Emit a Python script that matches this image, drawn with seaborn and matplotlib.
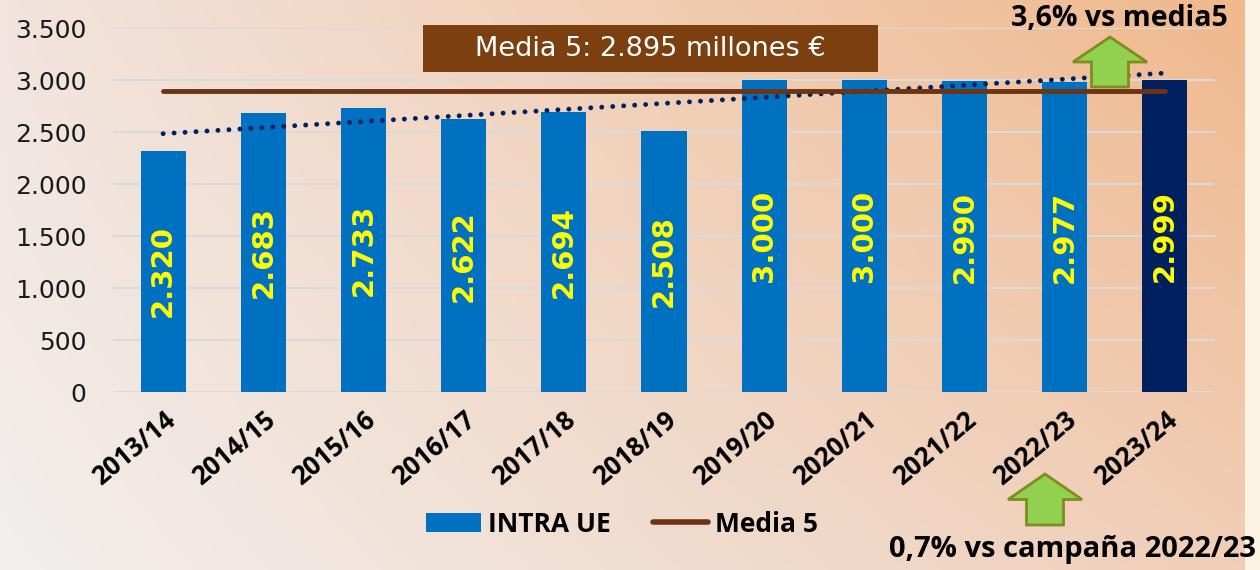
import numpy as np
import pandas as pd
import matplotlib
matplotlib.use("Agg")
import matplotlib.pyplot as plt
from matplotlib.patches import Polygon, Rectangle, Patch
from matplotlib.lines import Line2D
import seaborn as sns

# data (millones de euros)
seasons = ["2013/14", "2014/15", "2015/16", "2016/17", "2017/18", "2018/19",
           "2019/20", "2020/21", "2021/22", "2022/23", "2023/24"]
intra_ue = [2320, 2683, 2733, 2622, 2694, 2508, 3000, 3000, 2990, 2977, 2999]
media5 = 2895
yticks = [0, 500, 1000, 1500, 2000, 2500, 3000, 3500]

W, H = 1260, 570
BOLD_NARROW = ["Open Sans", "DejaVu Sans"]


def fmt(v):
    return f"{v:,.0f}".replace(",", ".")


def px(x, y):
    # pixel coords (top-left origin) -> figure fraction
    return (x / W, 1 - y / H)


def up_arrow(fig, x0, x1, ytip, ybase):
    cx = (x0 + x1) / 2
    hw = (x1 - x0) * 0.25
    yneck = ytip + (ybase - ytip) * 0.5
    pts = [px(cx, ytip), px(x1, yneck), px(cx + hw, yneck), px(cx + hw, ybase),
           px(cx - hw, ybase), px(cx - hw, yneck), px(x0, yneck)]
    fig.patches.append(Polygon(pts, closed=True, transform=fig.transFigure,
                               facecolor="#92D050", edgecolor="#7F8C1E", lw=2.0, zorder=5))


def main():
    sns.set_theme(style="white")
    plt.rcParams["font.family"] = ["DejaVu Sans"]
    plt.rcParams["text.color"] = "black"

    df = pd.DataFrame({"season": seasons, "value": intra_ue, "pos": range(len(seasons))})
    colors = ["#0070C0"] * (len(seasons) - 1) + ["#002060"]

    fig = plt.figure(figsize=(W / 100, H / 100), dpi=100)

    # background gradient
    bg = fig.add_axes([0, 0, 1, 1], zorder=-10)
    bg.axis("off")
    tl = np.array([242, 228, 222]) / 255
    tr = np.array([240, 184, 140]) / 255
    bl = np.array([242, 239, 237]) / 255
    br = np.array([240, 206, 184]) / 255
    gx = np.linspace(0, 1, 200)[None, :, None]
    gy = np.linspace(0, 1, 100)[:, None, None]
    img = (1 - gy) * ((1 - gx) * tl + gx * tr) + gy * ((1 - gx) * bl + gx * br)
    bg.imshow(img, extent=[0, 1245 / W, 0, 1], aspect="auto", transform=bg.transAxes)
    bg.add_patch(Rectangle((1245 / W, 0), 1 - 1245 / W, 1, transform=bg.transAxes,
                           facecolor="#FBF2E2", edgecolor="none"))
    bg.set_xlim(0, 1)
    bg.set_ylim(0, 1)

    ax = fig.add_axes([113 / W, 1 - 392 / H, (1215 - 113) / W, (392 - 28) / H])
    ax.patch.set_alpha(0)

    sns.barplot(data=df, x="season", y="value", hue="season", palette=colors,
                saturation=1, linewidth=0, legend=False, width=0.45, ax=ax, zorder=3)
    sns.regplot(data=df, x="pos", y="value", scatter=False, ci=None, ax=ax,
                color="#002060", line_kws={"lw": 3.5, "ls": (0, (0.01, 2.25)),
                                           "dash_capstyle": "round", "zorder": 4})
    ax.plot([0, len(seasons) - 1], [media5, media5], color="#6B3414", lw=3.5,
            solid_capstyle="round", zorder=5)

    for i, v in enumerate(intra_ue):
        ax.text(i, v / 2, fmt(v), rotation=90, ha="center", va="center",
                color="#FFFF00", fontsize=21, fontweight="bold", zorder=6)

    ax.set_xlim(-0.5, len(seasons) - 0.5)
    ax.set_ylim(0, 3500)
    ax.set_yticks(yticks)
    ax.set_yticklabels([fmt(t) for t in yticks], fontsize=18, color="#1a1a1a")
    ax.yaxis.grid(True, color="#DADADA", lw=1.5, zorder=0)
    ax.set_axisbelow(True)
    for s in ax.spines.values():
        s.set_visible(False)
    ax.tick_params(axis="both", length=0)
    ax.tick_params(axis="y", pad=19)
    ax.set_xlabel("")
    ax.set_ylabel("")
    ax.set_xticks(range(len(seasons)))
    ax.set_xticklabels(seasons, rotation=40, ha="right", rotation_mode="anchor",
                       fontsize=18.5, fontweight="bold", color="black", family=BOLD_NARROW)
    ax.tick_params(axis="x", pad=10)

    # Media 5 box
    fig.patches.append(Rectangle(px(423, 72), 455 / W, 47 / H, transform=fig.transFigure,
                                 facecolor="#7B3F10", edgecolor="none", zorder=6))
    fig.text(*px(650, 49), f"Media 5: {fmt(media5)} millones €", ha="center", va="center",
             color="white", fontsize=19.5, zorder=7)

    # arrows and annotations
    up_arrow(fig, 1073, 1147, 37, 87)
    up_arrow(fig, 1008, 1082, 474, 525)
    fig.text(*px(1119, 19), "3,6% vs media5", ha="center", va="center", color="black",
             fontsize=20.5, fontweight="bold", family=BOLD_NARROW, zorder=7)
    fig.text(*px(1256, 550), "0,7% vs campaña 2022/23", ha="right", va="center",
             color="black", fontsize=21, fontweight="bold", family=BOLD_NARROW, zorder=7)

    handles = [Patch(facecolor="#0070C0", edgecolor="none"),
               Line2D([0], [0], color="#6B3414", lw=4, solid_capstyle="round")]
    leg = fig.legend(handles, ["INTRA UE", "Media 5"], loc="center",
                     bbox_to_anchor=px(622, 524), ncol=2, frameon=False,
                     handlelength=2.1, handleheight=0.75, columnspacing=1.6,
                     handletextpad=0.25,
                     prop={"size": 19, "weight": "bold", "family": BOLD_NARROW})
    for t in leg.get_texts():
        t.set_color("black")

    fig.savefig("out.png", dpi=100)


if __name__ == "__main__":
    main()
